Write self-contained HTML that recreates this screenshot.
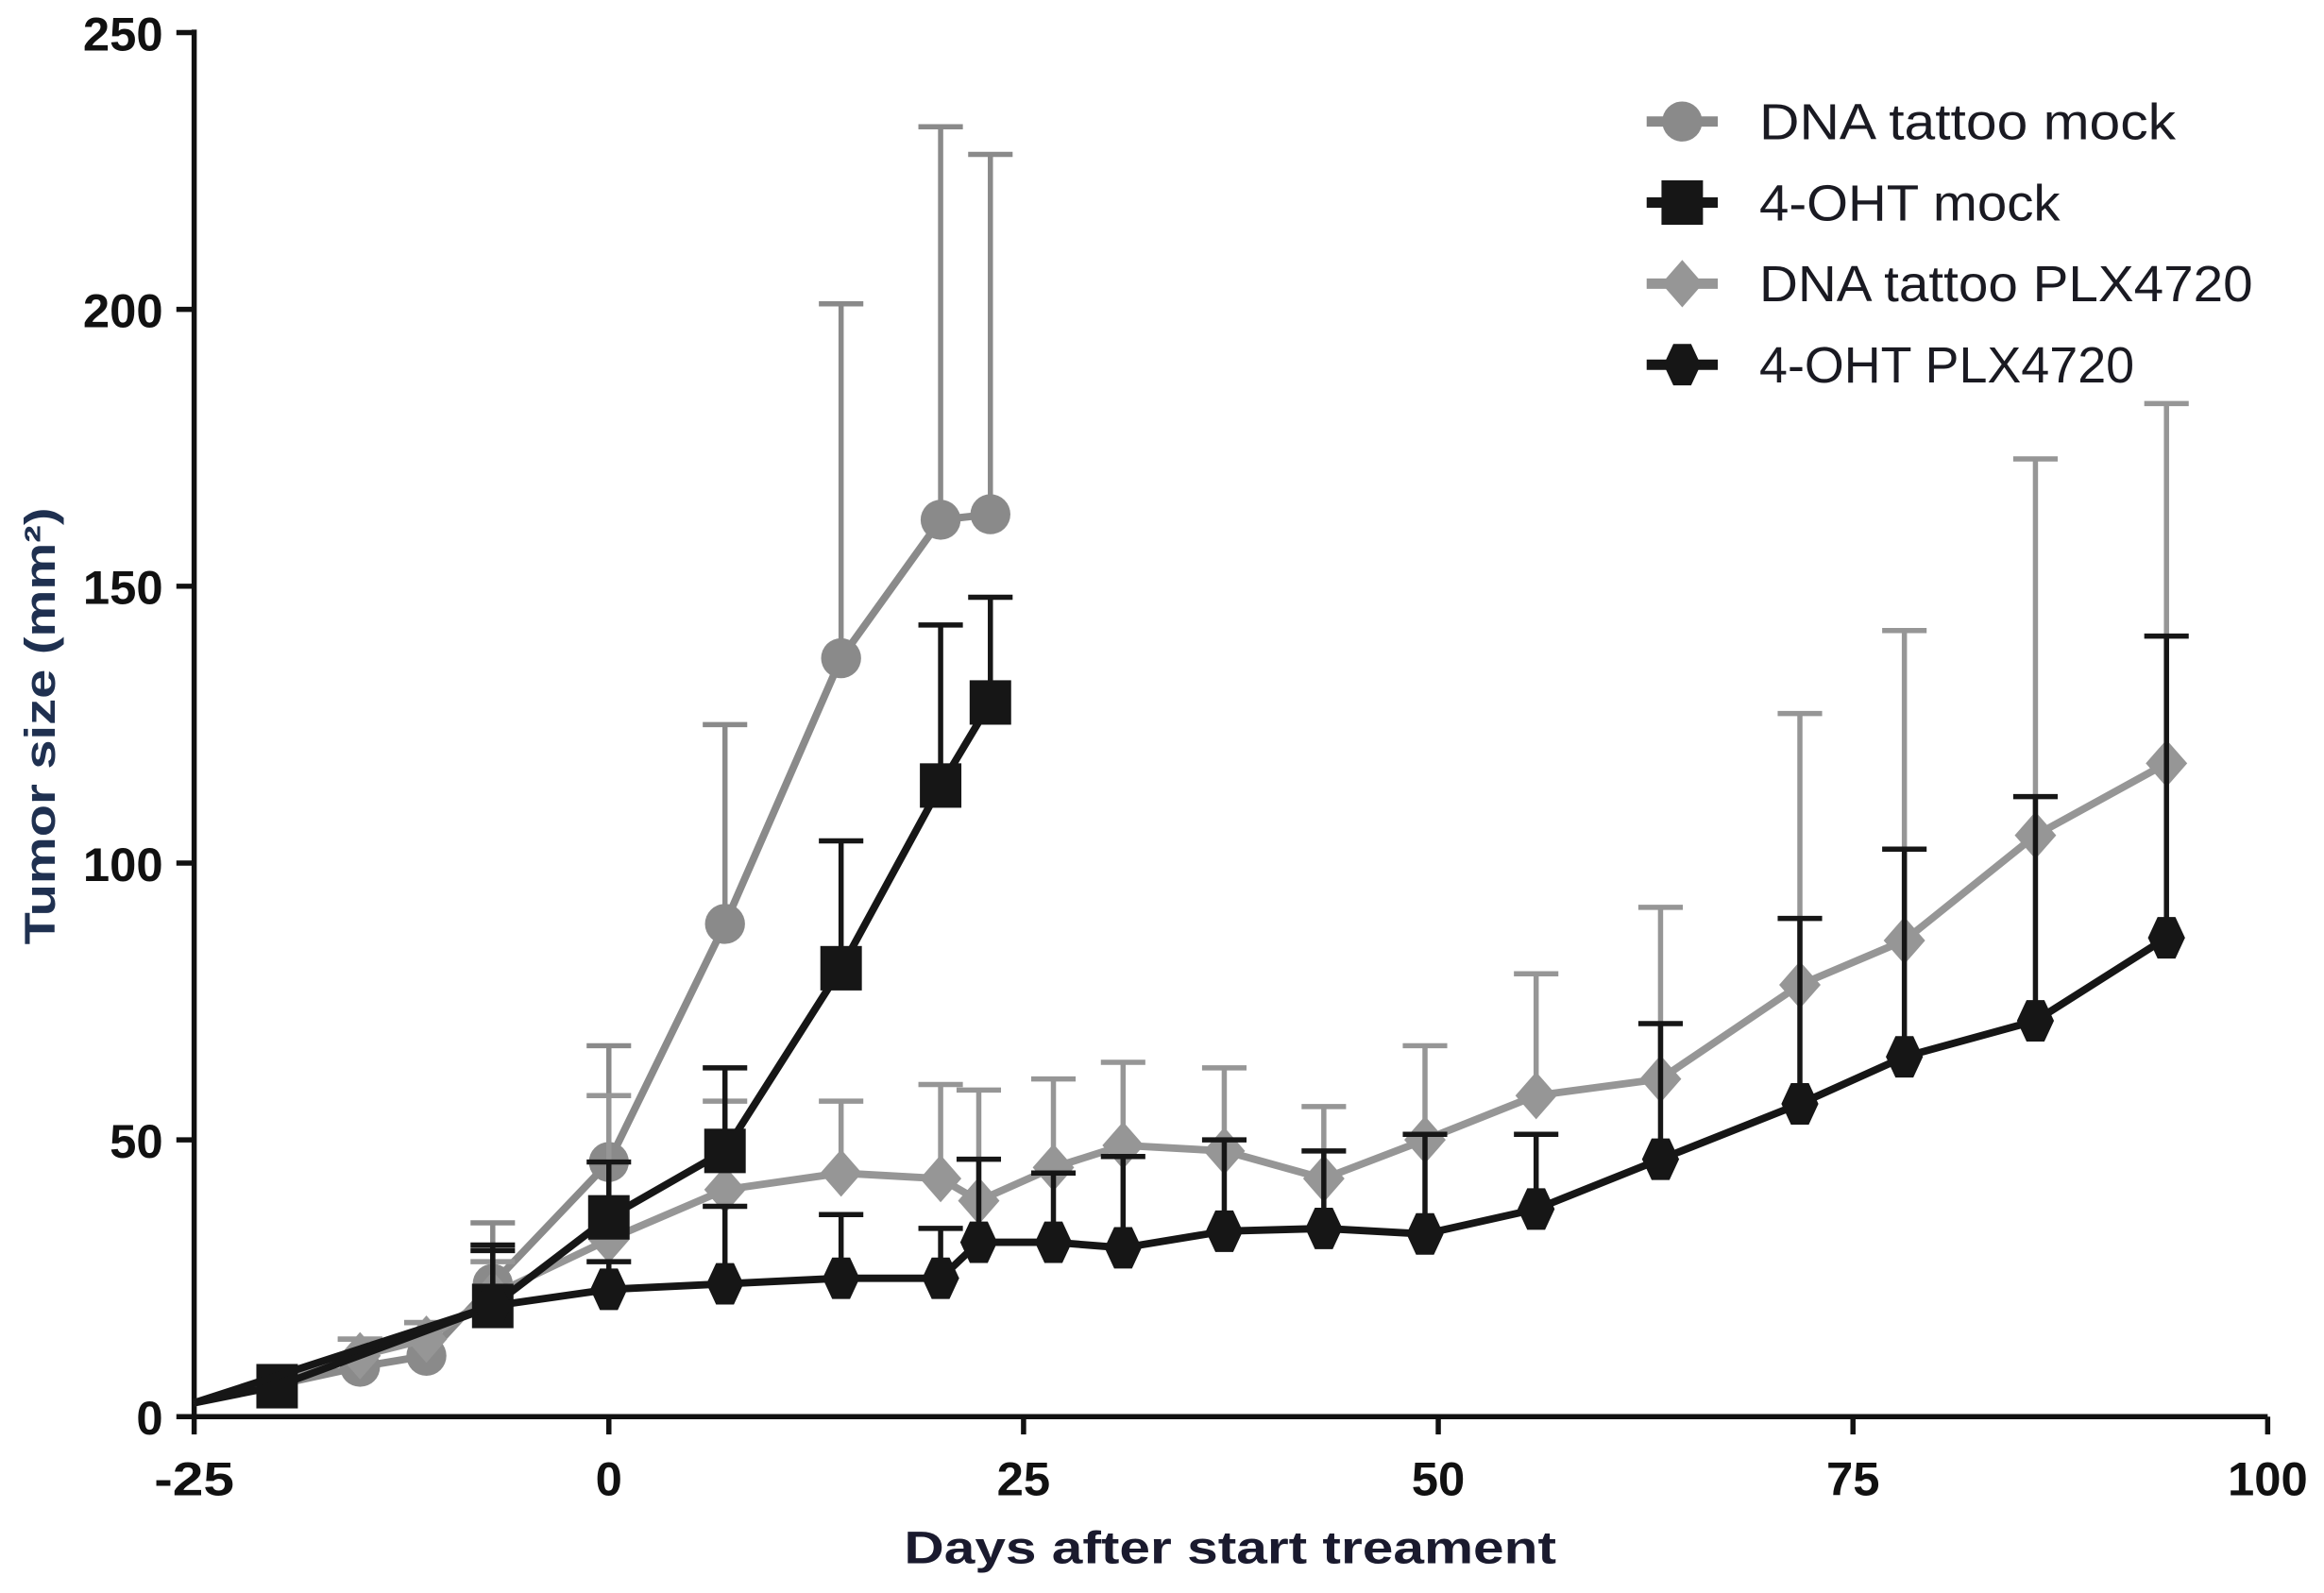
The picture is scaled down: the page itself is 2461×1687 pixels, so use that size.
<!DOCTYPE html>
<html><head><meta charset="utf-8"><style>html,body{margin:0;padding:0;background:#fff}svg{display:block}</style></head>
<body>
<svg id="chart" width="2461" height="1687" viewBox="0 0 1568 1075" preserveAspectRatio="none" xmlns="http://www.w3.org/2000/svg">
<g id="axes"></g>
<g id="series"></g>
<g id="legend"></g>
</svg>
<script>
const xTicks = [-25, 0, 25, 50, 75, 100];
const yTicks = [0, 50, 100, 150, 200, 250];
const names = ["DNA tattoo mock", "4-OHT mock", "DNA tattoo PLX4720", "4-OHT PLX4720"];
const daysMock = [-25, -15, -11, -7, 0, 7, 14, 20, 23];
const valMock = [2.5, 9, 11, 24, 46, 89, 137, 162, 163];
const errMock = [2.5, 14, 17, 35, 67, 125, 201, 233, 228];
const daysOhtMock = [-25, -20, -7, 0, 7, 14, 20, 23];
const valOhtMock = [2.5, 5.5, 20, 36, 48, 81, 114, 129];
const errOhtMock = [2.5, 5.5, 30, 46, 63, 104, 143, 148];
const daysPlx = [-25, -15, -11, -7, 0, 7, 14, 20, 22.3, 26.8, 31, 37.1, 43.1, 49.2, 55.9, 63.4, 71.8, 78.1, 86, 93.9];
const valPlx = [2.5, 11, 14, 22, 32, 41, 44, 43, 39, 45, 49, 48, 43, 50, 58, 61, 78, 86, 105, 118];
const errPlx = [2.5, 14, 17, 28, 58, 57, 57, 60, 59, 61, 64, 63, 56, 67, 80, 92, 127, 142, 173, 183];
const daysOhtPlx = [-25, -7, 0, 7, 14, 20, 22.3, 26.8, 31, 37.1, 43.1, 49.2, 55.9, 63.4, 71.8, 78.1, 86, 93.9];
const valOhtPlx = [2.5, 20, 23, 24, 25, 25, 31.5, 31.5, 30.5, 33.5, 34, 33, 37.5, 46.5, 56.5, 65, 71.5, 86.5];
const errOhtPlx = [2.5, 31, 28, 38, 36.5, 34, 46.5, 44, 47, 50, 48, 51, 51, 71, 90, 102.5, 112, 141];

const NS = "http://www.w3.org/2000/svg";
const X = d => 131 + (d + 25) * (1530 - 131) / 125;
const Y = v => 956 - v * (956 - 22) / 250;
function mk(tag, attrs, parent) {
  const e = document.createElementNS(NS, tag);
  for (const k in attrs) e.setAttribute(k, attrs[k]);
  parent.appendChild(e);
  return e;
}
const axes = document.getElementById('axes');
let el = mk('line', {x1: 131, y1: 956, x2: 1530, y2: 956, stroke: '#111', 'stroke-width': 3.5}, axes);


el = mk('line', {x1: 131, y1: 956, x2: 131, y2: 20, stroke: '#111', 'stroke-width': 3.5}, axes);


xTicks.forEach(t => {
  el = mk('line', {x1: X(t), y1: 956, x2: X(t), y2: 968, stroke: '#111', 'stroke-width': 3.5}, axes);
  
  
  el = mk('text', {x: X(t), y: 1009, 'text-anchor': 'middle', 'font-family': 'Liberation Sans, sans-serif', 'font-size': 32, 'font-weight': 'bold', fill: '#111', textLength: String(t).length * 18, lengthAdjust: 'spacingAndGlyphs'}, axes);
  el.textContent = t;
  
  
});
yTicks.forEach(t => {
  el = mk('line', {x1: 119, y1: Y(t), x2: 131, y2: Y(t), stroke: '#111', 'stroke-width': 3.5}, axes);
  
  
  el = mk('text', {x: 110, y: Y(t) + 12, 'text-anchor': 'end', 'font-family': 'Liberation Sans, sans-serif', 'font-size': 32, 'font-weight': 'bold', fill: '#111', textLength: String(t).length * 18, lengthAdjust: 'spacingAndGlyphs'}, axes);
  el.textContent = t;
  
  
});
el = mk('text', {x: 830, y: 1055, 'text-anchor': 'middle', 'font-family': 'Liberation Sans, sans-serif', 'font-size': 31, 'font-weight': 'bold', fill: '#1a1a2e', textLength: 440, lengthAdjust: 'spacingAndGlyphs'}, axes);
el.textContent = 'Days after start treament';


el = mk('text', {x: 0, y: 0, transform: 'translate(37,490) rotate(-90)', 'text-anchor': 'middle', 'font-family': 'Liberation Sans, sans-serif', 'font-size': 29, 'font-weight': 'bold', fill: '#1f3050', textLength: 295, lengthAdjust: 'spacingAndGlyphs'}, axes);
el.textContent = 'Tumor size (mm²)';



function marker(shape, cx, cy, color, parent) {
  let e;
  if (shape === 'circle') e = mk('circle', {cx, cy, r: 13.5, fill: color}, parent);
  else if (shape === 'square') e = mk('rect', {x: cx - 14, y: cy - 15, width: 28, height: 30, fill: color}, parent);
  else if (shape === 'diamond') e = mk('polygon', {points: `${cx},${cy-16} ${cx+14},${cy} ${cx},${cy+16} ${cx-14},${cy}`, fill: color}, parent);
  else e = mk('polygon', {points: `${cx-6},${cy-14} ${cx+6},${cy-14} ${cx+12.5},${cy} ${cx+6},${cy+14} ${cx-6},${cy+14} ${cx-12.5},${cy}`, fill: color}, parent);
  return e;
}
const seriesDefs = [
  {name: 'dna-tattoo-mock', d: daysMock, v: valMock, e: errMock, color: '#8a8a8a', shape: 'circle'},
  {name: 'dna-tattoo-plx4720', d: daysPlx, v: valPlx, e: errPlx, color: '#969696', shape: 'diamond'},
  {name: 'oht-mock', d: daysOhtMock, v: valOhtMock, e: errOhtMock, color: '#161616', shape: 'square'},
  {name: 'oht-plx4720', d: daysOhtPlx, v: valOhtPlx, e: errOhtPlx, color: '#161616', shape: 'hexagon'}
];
const sg = document.getElementById('series');
seriesDefs.forEach(s => {
  const g = mk('g', {}, sg);
  
  
  s.d.forEach((d, i) => {
    if (s.e[i] > s.v[i]) {
      const eb = mk('path', {d: `M${X(d)},${Y(s.v[i])}V${Y(s.e[i])}M${X(d)-15},${Y(s.e[i])}H${X(d)+15}`, stroke: s.color, 'stroke-width': 3.5, fill: 'none'}, g);
      
      
    }
  });
  const ln = mk('polyline', {points: s.d.map((d, i) => X(d) + ',' + Y(s.v[i])).join(' '), stroke: s.color, 'stroke-width': 5, fill: 'none', 'stroke-linejoin': 'round'}, g);
  
  
  s.d.forEach((d, i) => {
    if (d <= -25) return;
    const m = marker(s.shape, X(d), Y(s.v[i]), s.color, g);
    
    
  });
});
const lg = document.getElementById('legend');
const legShapes = [['circle', '#8a8a8a'], ['square', '#161616'], ['diamond', '#969696'], ['hexagon', '#161616']];
const legLen = [281, 203, 333, 253];
names.forEach((n, i) => {
  const y = 82 + i * 54.7;
  const g = mk('g', {}, lg);
  
  
  mk('line', {x1: 1111, y1: y, x2: 1159, y2: y, stroke: legShapes[i][1], 'stroke-width': 7}, g);
  marker(legShapes[i][0], 1135, y, legShapes[i][1], g);
  const t = mk('text', {x: 1187, y: y + 12, 'font-family': 'Liberation Sans, sans-serif', 'font-size': 34, fill: '#1a1a22', textLength: legLen[i], lengthAdjust: 'spacingAndGlyphs'}, g);
  t.textContent = n;
  
  
});
</script>
</body></html>
